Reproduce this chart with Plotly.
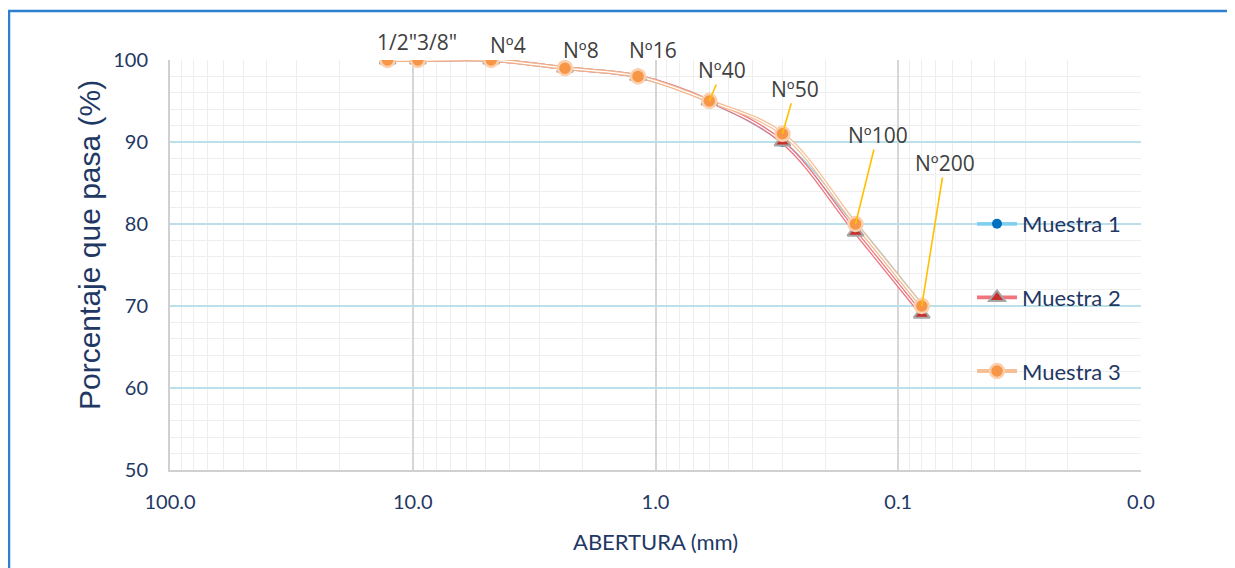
import numpy as np
import plotly.graph_objects as go

# ---- data ----
sieve_labels = ['1/2"', '3/8"', 'Nº4', 'Nº8', 'Nº16', 'Nº40', 'Nº50', 'Nº100', 'Nº200']
abertura_mm = [12.7, 9.525, 4.75, 2.36, 1.18, 0.6, 0.3, 0.15, 0.08]
muestra1 = [100, 100, 100, 99, 98, 95, 90, 80, 70]
muestra2 = [100, 100, 100, 99, 98, 95, 90, 79, 69]
muestra3 = [100, 100, 100, 99, 98, 95, 91, 80, 70]
x_tickvals = [100, 10, 1, 0.1, 0.01]
x_ticktext = ["100.0", "10.0", "1.0", "0.1", "0.0"]
y_tickvals = [50, 60, 70, 80, 90, 100]

OFF = 8  # page body margin
W, H = 1235 - OFF, 568 - OFF
L, R, T, B = 170 - OFF, 94, 60 - OFF, 98
pw, ph = W - L - R, H - T - B

def px_to_paper_x(px):
    return (px - OFF - L) / pw

def px_to_paper_y(py):
    return (H - B - (py - OFF)) / ph

NAVY = "#1F3864"
FONT = "Lato"
LABEL_FONT = "Open Sans"

fig = go.Figure()

series = [
    ("Muestra 1", muestra1, "rgba(120,205,240,0.9)",
     dict(symbol="circle", size=10, color="#0070C0", line=dict(width=0))),
    ("Muestra 2", muestra2, "rgba(240,100,110,0.9)",
     dict(symbol="triangle-up", size=14, color="#C8302E", line=dict(width=2, color="#A6A6A6"))),
    ("Muestra 3", muestra3, "rgba(245,185,140,0.9)",
     dict(symbol="circle", size=14, color="#F79646", line=dict(width=2.5, color="#FAD0AE"))),
]

# double (compound) lines
for name, vals, lc, mk in series:
    fig.add_trace(go.Scatter(
        x=abertura_mm, y=vals, mode="lines",
        line=dict(color=lc, width=3.8, shape="spline"),
        showlegend=False, hoverinfo="skip"))
    fig.add_trace(go.Scatter(
        x=abertura_mm, y=vals, mode="lines",
        line=dict(color="white", width=1.3, shape="spline"),
        showlegend=False, hoverinfo="skip"))

# markers
for name, vals, lc, mk in series:
    fig.add_trace(go.Scatter(
        x=abertura_mm, y=vals, mode="markers", name=name,
        marker=mk, showlegend=False))

# legend entries
for i, (name, vals, lc, mk) in enumerate(series):
    fig.add_trace(go.Scatter(
        x=[None], y=[None], mode="lines+markers", name=name,
        line=dict(color=lc, width=3.8),
        marker=mk, legendgroup=name, showlegend=True, legendrank=i))

# data labels
no_arrow_shifts = [(9, 18), (19, 18), (17, 15), (16, 18), (15, 26)]
arrow_offsets = [(13, -31), (13, -45), (22, -89), (23, -143)]
annotations = []
for i, lab in enumerate(sieve_labels):
    xv = np.log10(abertura_mm[i])
    yv = muestra3[i]
    if i < len(no_arrow_shifts):
        xs, ys = no_arrow_shifts[i]
        annotations.append(dict(x=xv, y=yv, xref="x", yref="y", text=lab, showarrow=False,
                                xshift=xs, yshift=ys, font=dict(family=LABEL_FONT, size=21, color="#404040")))
    else:
        ax, ay = arrow_offsets[i - len(no_arrow_shifts)]
        annotations.append(dict(x=xv, y=yv, xref="x", yref="y", text=lab, showarrow=True,
                                ax=ax, ay=ay, arrowhead=0, arrowwidth=1.6, arrowcolor="#FFC000",
                                standoff=0, borderpad=0,
                                font=dict(family=LABEL_FONT, size=21, color="#404040")))

annotations.append(dict(x=px_to_paper_x(90), y=px_to_paper_y(245), xref="paper", yref="paper",
                        xanchor="center", yanchor="middle",
                        text="Porcentaje que pasa (%)", textangle=-90, showarrow=False,
                        font=dict(family="Liberation Sans", size=30, color=NAVY)))
annotations.append(dict(x=px_to_paper_x(655), y=px_to_paper_y(541), xref="paper", yref="paper",
                        xanchor="center", yanchor="middle",
                        text="ABERTURA (mm)", showarrow=False,
                        font=dict(family=FONT, size=22, color=NAVY)))

minor_x = [m * 10.0 ** k for k in range(-2, 2) for m in range(2, 10)]

fig.update_layout(
    width=W, height=H,
    margin=dict(l=L, r=R, t=T, b=B),
    paper_bgcolor="white", plot_bgcolor="white",
    annotations=annotations,
    showlegend=True,
    legend=dict(x=px_to_paper_x(972), y=px_to_paper_y(203), xanchor="left", yanchor="top",
                bgcolor="rgba(0,0,0,0)", font=dict(family=FONT, size=22, color=NAVY),
                tracegroupgap=42, itemwidth=40),
    shapes=[dict(type="rect", xref="paper", yref="paper",
                 x0=px_to_paper_x(9), x1=px_to_paper_x(1231),
                 y0=px_to_paper_y(620), y1=px_to_paper_y(11),
                 line=dict(color="#2F7FD0", width=2.5), fillcolor="rgba(0,0,0,0)", layer="above")],
)

fig.update_xaxes(
    type="log", range=[2, -2],
    tickvals=x_tickvals, ticktext=x_ticktext,
    tickfont=dict(family=FONT, size=20, color=NAVY),
    ticks="outside", ticklen=13, tickcolor="rgba(0,0,0,0)",
    showgrid=True, gridcolor="#D6D6D6", gridwidth=1.5,
    minor=dict(tickvals=minor_x, showgrid=True, gridcolor="#EEEEEE", gridwidth=1.2, ticks=""),
    showline=True, linecolor="#D0D0D0", linewidth=2, mirror=False,
    zeroline=False,
)
fig.update_yaxes(
    range=[50, 100], tickvals=y_tickvals,
    tickfont=dict(family=FONT, size=20, color=NAVY),
    ticks="outside", ticklen=16, tickcolor="rgba(0,0,0,0)",
    showgrid=True, gridcolor="#BCE0EA", gridwidth=1.5,
    minor=dict(dtick=2, showgrid=True, gridcolor="#EEEEEE", gridwidth=1.2, ticks=""),
    showline=True, linecolor="#D0D0D0", linewidth=2,
    zeroline=False,
)

fig.write_html("out.html")
